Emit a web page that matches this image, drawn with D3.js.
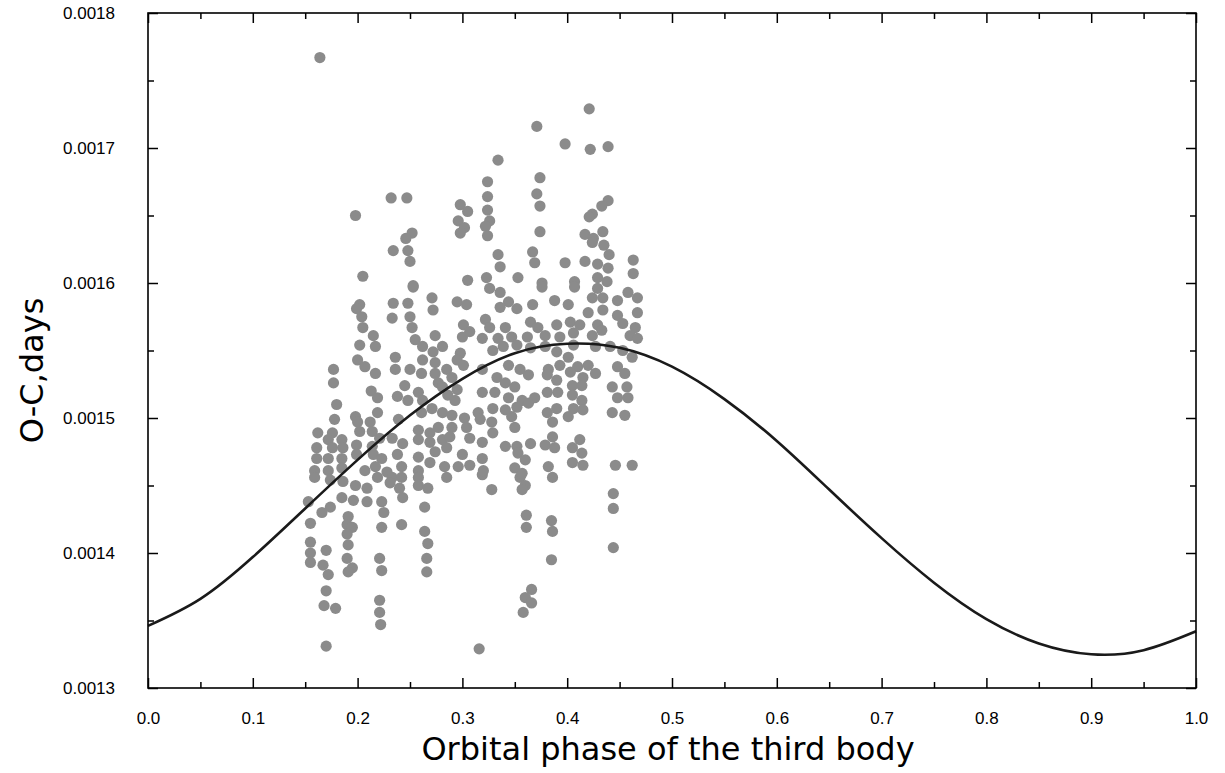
<!DOCTYPE html>
<html><head><meta charset="utf-8">
<script src="https://cdn.jsdelivr.net/npm/d3@7"></script>
<style>body{margin:0;background:#fff}</style>
</head><body>
<svg id="chart" width="1225" height="773"></svg>
<script>
// ---- data ----
const obsPhase = [
  0.164,0.421,0.371,0.398,0.422,0.439,0.334,0.374,0.324,0.371,0.324,0.374,0.324,0.326,0.322,0.324,0.374,0.334,0.367,0.369,0.336,0.398,0.323,0.353,0.376,
  0.439,0.433,0.424,0.421,0.417,0.425,0.434,0.435,0.440,0.424,0.417,0.429,0.439,0.463,0.463,0.407,0.429,0.438,
  0.232,0.247,0.298,0.305,0.296,0.302,0.298,0.252,0.246,0.234,0.248,0.250,0.253,0.305,0.198,0.205,
  0.202,0.199,0.204,0.205,0.215,0.202,0.217,0.200,0.207,0.217,0.177,0.177,0.213,0.219,0.180,0.178,0.198,0.200,0.212,0.219,
  0.162,0.176,0.202,0.214,0.172,0.185,0.161,0.176,0.186,0.199,0.214,0.221,0.161,0.172,0.185,0.199,0.215,0.223,0.159,0.172,
  0.185,0.207,0.217,
  0.159,0.174,0.186,0.198,0.209,0.219,0.153,0.185,0.196,0.209,0.223,0.174,0.166,0.155,0.191,0.190,0.195,0.190,0.223,0.155,
  0.191,0.170,0.155,0.190,0.221,0.155,0.167,0.195,0.191,0.223,0.172,0.170,0.221,0.168,0.179,0.221,0.222,0.170,
  0.253,0.234,0.248,0.271,0.272,0.295,0.304,0.233,0.250,0.252,0.274,0.301,0.307,0.255,0.262,0.272,0.281,0.300,0.298,0.236,
  0.236,0.250,0.261,0.262,0.274,0.274,0.285,0.295,0.301,0.277,0.290,0.245,0.258,0.281,0.286,0.295,0.238,0.248,0.262,0.271,
  0.293,0.261,0.281,0.239,0.290,0.302,0.258,0.269,0.277,0.290,0.304,0.233,0.243,0.258,0.269,0.281,0.288,0.307,0.238,0.258,
  0.274,0.285,0.300,0.242,0.258,0.269,0.283,0.296,0.307,0.228,
  0.233,0.242,0.258,0.285,0.231,0.240,0.258,0.267,0.243,0.225,0.264,0.242,0.264,0.267,0.266,0.266,
  0.319,0.355,0.386,0.360,0.357,0.328,0.361,0.361,0.385,0.386,0.385,0.366,0.360,0.366,0.358,0.316,0.444,0.444,0.444,
  0.326,0.376,0.336,0.344,0.336,0.352,0.367,0.388,0.322,0.326,0.341,0.365,0.372,0.390,0.319,0.334,0.347,0.362,0.379,0.393,
  0.329,0.339,0.352,0.365,0.379,0.390,0.344,0.355,0.363,0.382,0.393,0.319,0.333,0.341,0.381,0.390,0.319,0.331,0.350,0.369,
  0.381,0.391,0.344,0.357,0.341,0.352,0.363,0.329,0.315,0.381,0.390,0.328,0.347,0.317,0.386,0.350,0.329,0.386,0.319,0.341,
  0.352,0.379,0.388,0.365,0.353,0.319,0.360,0.382,0.350,0.320,0.357,
  0.407,0.429,0.458,0.424,0.434,0.448,0.467,0.401,0.420,0.434,0.448,0.467,0.403,0.412,0.429,0.453,0.465,0.406,0.424,0.433,
  0.460,0.467,0.406,0.427,0.441,0.453,0.462,0.401,0.410,0.420,0.403,0.415,0.427,0.448,0.455,0.405,0.414,0.443,0.457,0.405,
  0.414,0.448,0.458,0.406,0.415,0.443,0.455,0.401,0.412,0.405,0.414,0.405,0.415,0.446,0.462
];
const obsOC = [
  0.001767,0.001729,0.001716,0.001703,0.001699,0.001701,0.001691,0.001678,0.001675,0.001666,0.001664,0.001657,0.001654,0.001646,0.001642,0.001635,0.001638,0.001621,0.001623,0.001615,0.001612,0.001615,0.001604,0.001604,0.001600,
  0.001661,0.001657,0.001651,0.001649,0.001636,0.001633,0.001638,0.001628,0.001621,0.001630,0.001616,0.001614,0.001611,0.001617,0.001607,0.001601,0.001604,0.001601,
  0.001663,0.001663,0.001658,0.001653,0.001646,0.001641,0.001637,0.001637,0.001633,0.001624,0.001624,0.001616,0.001598,0.001602,0.001650,0.001605,
  0.001584,0.001581,0.001575,0.001567,0.001561,0.001554,0.001553,0.001543,0.001538,0.001533,0.001536,0.001526,0.001520,0.001515,0.001510,0.001499,0.001501,0.001497,0.001497,0.001504,
  0.001489,0.001489,0.001490,0.001490,0.001484,0.001484,0.001478,0.001478,0.001478,0.001480,0.001479,0.001485,0.001470,0.001470,0.001470,0.001473,0.001473,0.001470,0.001461,0.001461,
  0.001463,0.001461,0.001464,
  0.001456,0.001454,0.001453,0.001450,0.001448,0.001456,0.001438,0.001441,0.001439,0.001438,0.001438,0.001434,0.001430,0.001422,0.001427,0.001421,0.001419,0.001414,0.001419,0.001408,
  0.001406,0.001402,0.001400,0.001396,0.001396,0.001393,0.001391,0.001389,0.001386,0.001387,0.001384,0.001372,0.001365,0.001361,0.001359,0.001356,0.001347,0.001331,
  0.001597,0.001585,0.001585,0.001589,0.001580,0.001586,0.001584,0.001574,0.001575,0.001567,0.001561,0.001569,0.001564,0.001558,0.001553,0.001549,0.001553,0.001560,0.001548,0.001545,
  0.001536,0.001536,0.001533,0.001543,0.001541,0.001533,0.001536,0.001543,0.001539,0.001526,0.001530,0.001524,0.001519,0.001523,0.001517,0.001521,0.001516,0.001513,0.001513,0.001507,
  0.001513,0.001504,0.001504,0.001499,0.001502,0.001500,0.001491,0.001489,0.001493,0.001493,0.001493,0.001485,0.001481,0.001484,0.001482,0.001484,0.001486,0.001485,0.001473,0.001471,
  0.001475,0.001478,0.001473,0.001464,0.001461,0.001467,0.001464,0.001464,0.001465,0.001460,
  0.001456,0.001456,0.001456,0.001456,0.001452,0.001448,0.001450,0.001448,0.001441,0.001430,0.001434,0.001421,0.001416,0.001407,0.001396,0.001386,
  0.001458,0.001456,0.001456,0.001450,0.001447,0.001447,0.001428,0.001419,0.001424,0.001416,0.001395,0.001373,0.001367,0.001363,0.001356,0.001329,0.001444,0.001433,0.001404,
  0.001596,0.001597,0.001593,0.001586,0.001582,0.001581,0.001584,0.001587,0.001573,0.001567,0.001567,0.001571,0.001567,0.001569,0.001559,0.001559,0.001560,0.001560,0.001561,0.001560,
  0.001550,0.001553,0.001554,0.001552,0.001553,0.001549,0.001539,0.001536,0.001532,0.001536,0.001539,0.001536,0.001530,0.001526,0.001532,0.001528,0.001519,0.001519,0.001523,0.001515,
  0.001519,0.001519,0.001515,0.001513,0.001506,0.001508,0.001511,0.001507,0.001504,0.001504,0.001507,0.001497,0.001501,0.001499,0.001497,0.001493,0.001489,0.001486,0.001482,0.001479,
  0.001479,0.001480,0.001478,0.001481,0.001474,0.001470,0.001469,0.001464,0.001463,0.001461,0.001459,
  0.001597,0.001596,0.001593,0.001589,0.001589,0.001587,0.001589,0.001584,0.001578,0.001580,0.001576,0.001578,0.001571,0.001569,0.001569,0.001570,0.001567,0.001563,0.001561,0.001565,
  0.001561,0.001559,0.001554,0.001553,0.001553,0.001550,0.001545,0.001545,0.001538,0.001539,0.001534,0.001530,0.001533,0.001538,0.001533,0.001524,0.001524,0.001523,0.001523,0.001517,
  0.001513,0.001515,0.001515,0.001507,0.001506,0.001504,0.001502,0.001501,0.001484,0.001478,0.001474,0.001467,0.001465,0.001465,0.001465
];
const fitPhase = [0,0.05,0.1,0.15,0.2,0.25,0.3,0.35,0.4,0.45,0.5,0.55,0.6,0.65,0.7,0.75,0.8,0.85,0.9,0.95,1.0];
const fitOC = [0.001346,0.001366,0.001397,0.001433,0.001469,0.001502,0.001529,0.001548,0.001555,0.001552,0.001538,0.001514,0.001483,0.001447,0.001411,0.001378,0.001351,0.001333,0.001325,0.001328,0.001342];
const xTickValues = [0,0.1,0.2,0.3,0.4,0.5,0.6,0.7,0.8,0.9,1.0];
const xMinorValues = [0.05,0.15,0.25,0.35,0.45,0.55,0.65,0.75,0.85,0.95];
const yTickValues = [0.0013,0.0014,0.0015,0.0016,0.0017,0.0018];
const yMinorValues = [0.00135,0.00145,0.00155,0.00165,0.00175];
const xTitle = "Orbital phase of the third body";
const yTitle = "O-C,days";

// ---- drawing ----
const svg = d3.select("#chart");
const L = 148, R = 1196, T = 13, B = 688;
const x = d3.scaleLinear().domain([0, 1]).range([L, R]);
const y = d3.scaleLinear().domain([0.0013, 0.0018]).range([B, T]);

const n = Math.min(obsPhase.length, obsOC.length);
const pts = d3.range(n).map(i => [obsPhase[i], obsOC[i]]);

svg.append("g").selectAll("circle").data(pts).join("circle")
  .attr("cx", d => x(d[0])).attr("cy", d => y(d[1]))
  .attr("r", 5.6).attr("fill", "#8b8b8b");

const fit = fitPhase.map((p, i) => [p, fitOC[i]]);
svg.append("path").datum(fit)
  .attr("d", d3.line().x(d => x(d[0])).y(d => y(d[1])).curve(d3.curveNatural))
  .attr("fill", "none").attr("stroke", "#1a1a1a").attr("stroke-width", 2.6);

const tickFont = "'Liberation Sans', Arial, sans-serif";
function style(g) {
  g.select(".domain").remove();
  g.selectAll("line").attr("stroke", "#000").attr("stroke-width", 1.5);
  g.selectAll("text").attr("font-family", tickFont).attr("font-size", 17).attr("fill", "#000");
}
const MAJ = 10, MIN = 6;
svg.append("g").attr("transform", `translate(0,${B})`)
  .call(d3.axisBottom(x).tickValues(xTickValues).tickSizeInner(-MAJ).tickSizeOuter(0).tickPadding(24).tickFormat(d3.format(".1f"))).call(style);
svg.append("g").attr("transform", `translate(0,${B})`)
  .call(d3.axisBottom(x).tickValues(xMinorValues).tickSizeInner(-MIN).tickSizeOuter(0).tickFormat("")).call(style);
svg.append("g").attr("transform", `translate(0,${T})`)
  .call(d3.axisTop(x).tickValues(xTickValues).tickSizeInner(-MAJ).tickSizeOuter(0).tickFormat("")).call(style);
svg.append("g").attr("transform", `translate(0,${T})`)
  .call(d3.axisTop(x).tickValues(xMinorValues).tickSizeInner(-MIN).tickSizeOuter(0).tickFormat("")).call(style);
svg.append("g").attr("transform", `translate(${L},0)`)
  .call(d3.axisLeft(y).tickValues(yTickValues).tickSizeInner(-MAJ).tickSizeOuter(0).tickPadding(33).tickFormat(d3.format(".4f"))).call(style);
svg.append("g").attr("transform", `translate(${L},0)`)
  .call(d3.axisLeft(y).tickValues(yMinorValues).tickSizeInner(-MIN).tickSizeOuter(0).tickFormat("")).call(style);
svg.append("g").attr("transform", `translate(${R},0)`)
  .call(d3.axisRight(y).tickValues(yTickValues).tickSizeInner(-MAJ).tickSizeOuter(0).tickFormat("")).call(style);
svg.append("g").attr("transform", `translate(${R},0)`)
  .call(d3.axisRight(y).tickValues(yMinorValues).tickSizeInner(-MIN).tickSizeOuter(0).tickFormat("")).call(style);

svg.append("rect").attr("x", L).attr("y", T).attr("width", R - L).attr("height", B - T)
  .attr("fill", "none").attr("stroke", "#000").attr("stroke-width", 1.6);

svg.append("text").attr("x", (L + R) / 2 - 4).attr("y", 760)
  .attr("text-anchor", "middle").attr("font-family", "'DejaVu Sans', sans-serif")
  .attr("font-size", 32).attr("fill", "#000").text(xTitle);
svg.append("text").attr("transform", `translate(43,${(T + B) / 2 + 20}) rotate(-90)`)
  .attr("text-anchor", "middle").attr("font-family", "'DejaVu Sans', sans-serif")
  .attr("font-size", 32).attr("fill", "#000").text(yTitle);
</script>
</body></html>
